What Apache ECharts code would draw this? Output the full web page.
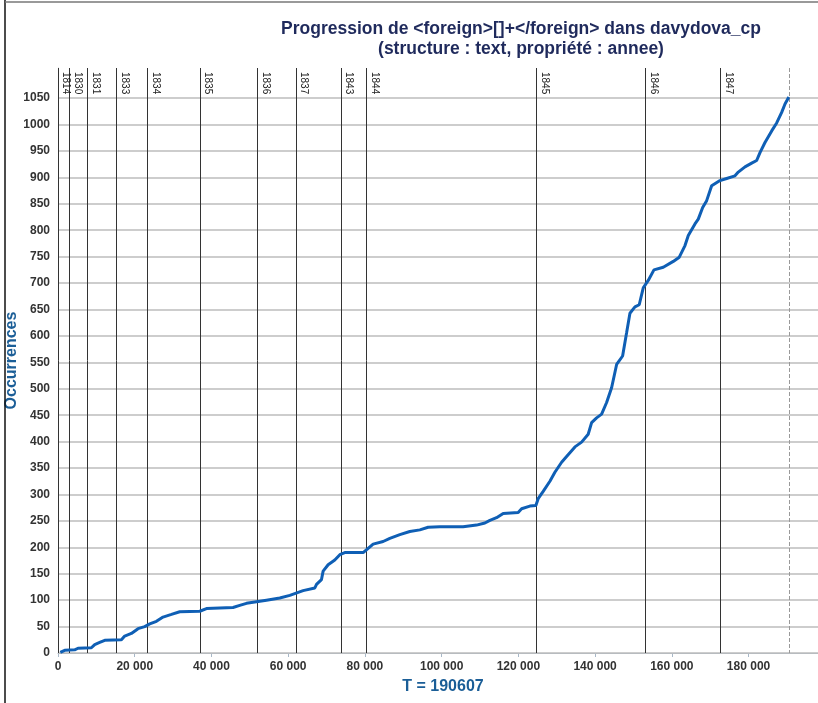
<!DOCTYPE html>
<html>
<head>
<meta charset="utf-8">
<script src="https://cdn.jsdelivr.net/npm/echarts@6/dist/echarts.min.js"></script>
<style>
html,body{margin:0;padding:0;background:#fff;}
#chart{width:818px;height:703px;}
</style>
</head>
<body>
<div id="chart"></div>
<script>
// ---- data ----
const totalT = 190607;
const positions = [600,1750,4350,5220,8700,9570,10870,12180,16530,17390,19130,20860,22600,23910,25660,27380,29570,31730,36950,38700,45630,47380,49130,51730,54340,57810,60420,63890,66940,67380,68680,69110,70410,72150,73460,74760,79540,80840,82140,84750,86490,89100,91700,94320,96480,99530,105600,109100,111270,112570,114310,116040,119950,120840,123000,124560,125160,126470,128220,129520,131270,132570,134740,136480,138200,139090,140390,141700,143000,144300,145610,147170,148210,149080,150380,151500,152550,153850,155340,157770,160370,161940,163430,164290,166030,166890,168040,169080,170380,172550,174290,176460,177320,179070,180810,182110,182980,184280,186030,187330,188630,189500,190500];
const occurrences = [1,5,6,9,10,16,20,24,25,32,37,46,50,55,60,68,73,78,79,84,86,90,94,97,100,104,109,118,123,130,139,155,167,176,186,190,190,198,206,211,217,224,230,233,238,239,239,242,246,251,256,264,266,273,278,279,292,306,325,342,361,372,390,399,414,436,445,452,474,502,546,562,606,643,655,659,691,705,725,730,741,749,771,790,812,821,843,856,884,894,898,903,910,920,927,932,947,966,988,1003,1023,1039,1052];
const yearLabels = ['1814','1830','1831','1833','1834','1835','1836','1837','1843','1844','1845','1846','1847'];
const yearStarts = [0,3050,7745,15230,23310,36950,51995,61980,73715,80415,124745,153170,172725];
const yGridValues = [0,50,100,150,200,250,300,350,400,450,500,550,600,650,700,750,800,850,900,950,1000,1050];

const Y_MAX = 1107;
const X_MAX = 198100;
const FONT = 'Liberation Sans, Arial, sans-serif';

const curve = positions.map((p, i) => [p, occurrences[i]]);

const chart = echarts.init(document.getElementById('chart'), null, {renderer: 'canvas'});

const fmtThousands = v => String(v).replace(/\B(?=(\d{3})+(?!\d))/g, ' ');

chart.setOption({
  animation: false,
  backgroundColor: '#ffffff',
  title: {
    text: 'Progression de <foreign>[]+</foreign> dans davydova_cp\n(structure : text, propriété : annee)',
    left: 516,
    top: 14,
    textAlign: 'center',
    textStyle: {fontFamily: FONT, fontSize: 17.5, fontWeight: 'bold', color: '#1f2a5c', lineHeight: 20}
  },
  grid: {left: 58, right: 0, top: 68, bottom: 50, containLabel: false, outerBoundsMode: 'none'},
  xAxis: {
    type: 'value',
    min: 0, max: X_MAX, interval: 20000,
    name: 'T = ' + totalT,
    nameLocation: 'middle',
    nameGap: 26,
    nameMoveOverlap: false,
    nameTextStyle: {fontFamily: FONT, fontSize: 16, fontWeight: 'bold', color: '#1b5e97', padding: [0, 0, 0, 10]},
    axisLine: {show: true, lineStyle: {color: '#a8b8c8', width: 1}},
    axisTick: {show: true, length: 4, lineStyle: {color: '#a8b8c8'}},
    axisLabel: {fontFamily: FONT, fontSize: 12, fontWeight: 'bold', color: '#333', margin: 8, showMaxLabel: false, formatter: fmtThousands},
    splitLine: {show: false}
  },
  yAxis: {
    type: 'value',
    min: 0, max: Y_MAX, interval: 50,
    name: 'Occurrences',
    nameLocation: 'middle',
    nameGap: 38,
    nameMoveOverlap: false,
    nameTextStyle: {fontFamily: FONT, fontSize: 16, fontWeight: 'bold', color: '#1b5e97'},
    axisLine: {show: true, lineStyle: {color: '#c8c8c8', type: 'dotted'}},
    axisTick: {show: false},
    axisLabel: {fontFamily: FONT, fontSize: 12, fontWeight: 'bold', color: '#333', margin: 8, showMaxLabel: false,
      formatter: v => (v > 1050 ? '' : String(v))},
    splitLine: {show: false}
  },
  graphic: [
    {type: 'line', shape: {x1: 5, y1: 0, x2: 5, y2: 703}, style: {stroke: '#111', lineWidth: 1.5}, z: 100},
    {type: 'line', shape: {x1: 5, y1: 2, x2: 818, y2: 2}, style: {stroke: '#777', lineWidth: 1.5}, z: 100}
  ],
  series: [
    {
      type: 'line', data: [], silent: true,
      markLine: {
        silent: true, symbol: ['none', 'none'], animation: false,
        label: {show: false},
        lineStyle: {color: '#bdbdbd', width: 1.5, type: 'solid'},
        data: yGridValues.map(v => ({yAxis: v}))
      }
    },
    {
      type: 'line', data: [], silent: true,
      markLine: {
        silent: true, symbol: ['none', 'none'], animation: false,
        lineStyle: {color: '#333', width: 1, type: 'solid'},
        label: {show: true, position: 'insideStartTop', distance: [4, 3], fontFamily: FONT, fontSize: 10, color: '#222'},
        data: yearStarts.map((t, i) => [
          {coord: [t, Y_MAX], name: yearLabels[i], label: {formatter: yearLabels[i]}},
          {coord: [t, 0]}
        ]).concat([[
          {coord: [totalT, Y_MAX], label: {show: false}, lineStyle: {color: '#999', type: 'dashed', width: 1}},
          {coord: [totalT, 0]}
        ]])
      }
    },
    {
      type: 'line',
      data: curve,
      showSymbol: false,
      symbol: 'none',
      lineStyle: {color: '#0f5fb5', width: 3},
      z: 5
    }
  ]
});
</script>
</body>
</html>
